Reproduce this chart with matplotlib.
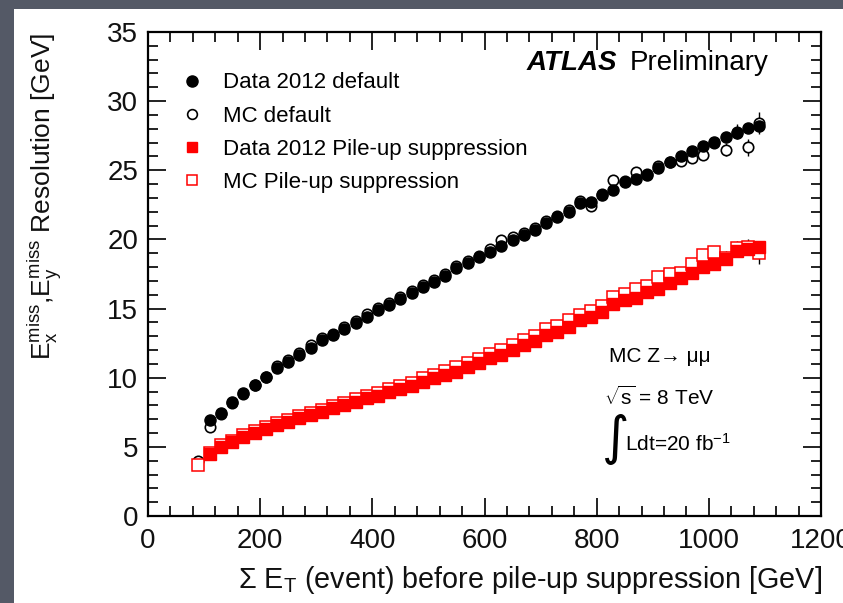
"""MET resolution vs. sum ET, default vs. pile-up suppressed, data and MC."""

import matplotlib

matplotlib.use("Agg")
import matplotlib.pyplot as plt
from matplotlib.lines import Line2D
from matplotlib.patches import Rectangle
from matplotlib.ticker import MultipleLocator

plt.rcParams["font.family"] = ["Liberation Sans", "DejaVu Sans"]
plt.rcParams["mathtext.fontset"] = "custom"
plt.rcParams["mathtext.rm"] = "Liberation Sans"
plt.rcParams["mathtext.it"] = "Liberation Sans:italic"
plt.rcParams["mathtext.bf"] = "Liberation Sans:bold"

BG = "#545966"

# sum ET bin centres [GeV]; MC starts one bin earlier than data
sumet_mc = [90, 110, 130, 150, 170, 190, 210, 230, 250, 270, 290, 310, 330, 350,
            370, 390, 410, 430, 450, 470, 490, 510, 530, 550, 570, 590, 610, 630,
            650, 670, 690, 710, 730, 750, 770, 790, 810, 830, 850, 870, 890, 910,
            930, 950, 970, 990, 1010, 1030, 1050, 1070, 1090]
sumet_data = sumet_mc[1:]

data_default = [6.94, 7.42, 8.22, 8.87, 9.47, 10.03, 10.72, 11.16, 11.64, 12.17,
                12.73, 13.09, 13.52, 13.93, 14.41, 14.90, 15.26, 15.67, 16.10,
                16.58, 16.94, 17.35, 17.91, 18.27, 18.70, 19.11, 19.52, 19.96,
                20.32, 20.68, 21.21, 21.64, 22.00, 22.60, 22.73, 23.21, 23.60,
                24.17, 24.35, 24.66, 25.19, 25.62, 26.03, 26.39, 26.75, 27.07,
                27.38, 27.72, 28.03, 28.20]
mc_default = [4.00, 6.46, 7.40, 8.15, 8.85, 9.50, 10.05, 10.85, 11.30, 11.80,
              12.35, 12.85, 13.15, 13.70, 14.10, 14.60, 15.05, 15.40, 15.85,
              16.25, 16.70, 17.10, 17.50, 18.05, 18.45, 18.80, 19.30, 19.95,
              20.20, 20.45, 20.80, 21.30, 21.70, 22.10, 22.75, 22.45, 23.30,
              24.30, 24.20, 24.90, 24.70, 25.30, 25.60, 25.65, 25.86, 26.10,
              27.00, 26.50, 27.80, 26.66, 28.40]
data_pus = [4.48, 5.01, 5.37, 5.73, 6.03, 6.27, 6.58, 6.82, 7.06, 7.30, 7.54,
            7.79, 8.03, 8.27, 8.51, 8.70, 8.94, 9.16, 9.38, 9.71, 9.95, 10.20,
            10.44, 10.80, 11.04, 11.40, 11.64, 12.00, 12.36, 12.65, 13.09, 13.33,
            13.69, 14.17, 14.41, 14.77, 15.30, 15.62, 15.74, 16.22, 16.39, 16.83,
            17.19, 17.60, 18.03, 18.22, 18.56, 19.16, 19.28, 19.48]
mc_pus = [3.70, 4.55, 5.10, 5.45, 5.85, 6.15, 6.40, 6.70, 6.95, 7.20, 7.45,
          7.70, 7.95, 8.20, 8.45, 8.70, 8.90, 9.15, 9.40, 9.65, 9.95, 10.20,
          10.50, 10.75, 11.10, 11.35, 11.75, 12.00, 12.35, 12.75, 13.05, 13.50,
          13.75, 14.20, 14.55, 14.85, 15.20, 15.85, 16.05, 16.45, 16.60, 17.25,
          17.50, 17.60, 18.25, 18.90, 19.10, 18.65, 19.35, 19.45, 19.00]

# statistical uncertainties, only visible in the high sum ET tail
data_err = [0.05] * 40 + [0.1, 0.1, 0.15, 0.15, 0.2, 0.2, 0.25, 0.3, 0.3, 0.35]
mc_err = [0.1] * 41 + [0.2, 0.25, 0.3, 0.3, 0.35, 0.4, 0.5, 0.55, 0.6, 0.8]

fig = plt.figure(figsize=(8.43, 6.03), dpi=100, facecolor=BG)
fig.patches.append(Rectangle((14 / 843, 0), 1, 1 - 9 / 603,
                             transform=fig.transFigure, facecolor="white",
                             edgecolor="none", zorder=0))
ax = fig.add_axes([148 / 843, 1 - 516 / 603, 673 / 843, 484 / 603])
ax.set_zorder(2)
ax.set_facecolor("white")

# MC first so the data markers sit on top
ax.errorbar(sumet_mc, mc_default, yerr=mc_err, fmt="none", ecolor="black",
            elinewidth=1, zorder=2)
ax.plot(sumet_mc, mc_default, "o", ms=7.5, mfc="white", mec="black", mew=1.2,
        ls="none", zorder=3)
ax.errorbar(sumet_mc, mc_pus, yerr=mc_err, fmt="none", ecolor="black",
            elinewidth=1, zorder=2)
ax.plot(sumet_mc, mc_pus, "s", ms=8, mfc="white", mec="red", mew=1.1,
        ls="none", zorder=3)

ax.errorbar(sumet_data, data_default, yerr=data_err, fmt="none",
            ecolor="black", elinewidth=1, zorder=4)
ax.plot(sumet_data, data_default, "o", ms=8, color="black", ls="none",
        zorder=5)
ax.errorbar(sumet_data, data_pus, yerr=data_err, fmt="none", ecolor="black",
            elinewidth=1, zorder=4)
ax.plot(sumet_data, data_pus, "s", ms=8.2, color="red", mec="red", ls="none",
        zorder=5)

ax.set_xlim(0, 1200)
ax.set_ylim(0, 35)
ax.xaxis.set_major_locator(MultipleLocator(200))
ax.xaxis.set_minor_locator(MultipleLocator(40))
ax.yaxis.set_major_locator(MultipleLocator(5))
ax.yaxis.set_minor_locator(MultipleLocator(1))
ax.tick_params(which="both", direction="in", top=True, right=True,
               width=1.3, labelsize=20, colors="#111")
ax.tick_params(which="major", length=13, pad=7)
ax.tick_params(axis="x", which="major", pad=9)
ax.tick_params(which="minor", length=7)
for spine in ax.spines.values():
    spine.set_linewidth(1.6)

handles = [
    Line2D([], [], marker="o", ls="none", ms=8, color="black"),
    Line2D([], [], marker="o", ls="none", ms=7, mfc="white", mec="black", mew=1.2),
    Line2D([], [], marker="s", ls="none", ms=7, color="red"),
    Line2D([], [], marker="s", ls="none", ms=7, mfc="white", mec="red", mew=1.1),
]
labels = ["Data 2012 default", "MC default", "Data 2012 Pile-up suppression",
          "MC Pile-up suppression"]
ax.legend(handles, labels, loc="upper left", bbox_to_anchor=(0.035, 0.935),
          frameon=False, fontsize=16, handletextpad=0.9, labelspacing=0.55,
          handlelength=1.0, borderaxespad=0)

ax.text(0.563, 0.936, "ATLAS", transform=ax.transAxes, fontsize=20,
        fontweight="bold", fontstyle="italic", va="center", ha="left")
ax.text(0.716, 0.936, "Preliminary", transform=ax.transAxes, fontsize=20,
        va="center", ha="left")

ax.text(0.685, 0.33, "MC Z→ μμ", transform=ax.transAxes, fontsize=15,
        va="center")
ax.text(0.677, 0.245, r"$\sqrt{\mathrm{s}}$ = 8 TeV", transform=ax.transAxes,
        fontsize=15, va="center")
ax.text(0.674, 0.16, "∫", transform=ax.transAxes, fontsize=38,
        va="center", ha="left", family="DejaVu Sans")
ax.text(0.709, 0.15, r"Ldt=20 fb$^{-1}$", transform=ax.transAxes,
        fontsize=15, va="center")

fig.text(45 / 843, 1 - 33 / 603,
         r"E$_{\mathrm{x}}^{\mathrm{miss}}$,E$_{\mathrm{y}}^{\mathrm{miss}}$ Resolution [GeV]",
         rotation=90, ha="center", va="top", fontsize=19, color="#111")
fig.text(822 / 843, 1 - 580 / 603,
         r"Σ E$_{\mathrm{T}}$ (event) before pile-up suppression [GeV]",
         ha="right", va="center", fontsize=20.7, color="#111")

fig.savefig("out.png", dpi=100, facecolor=BG)
